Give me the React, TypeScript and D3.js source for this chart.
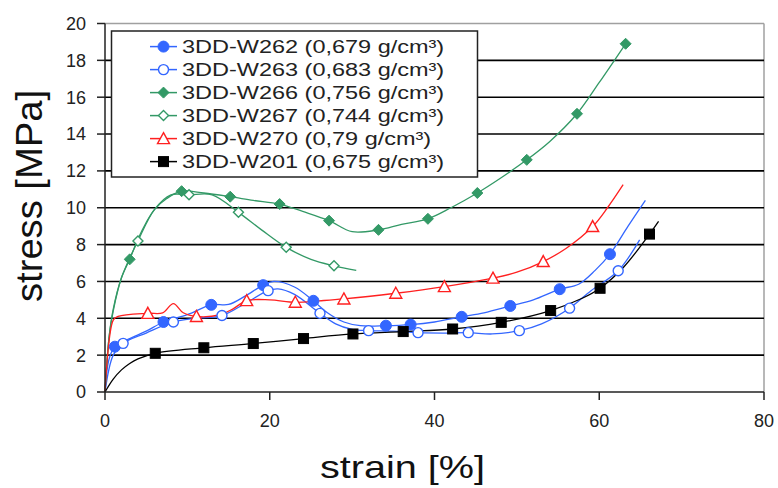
import * as d3 from "d3";

// strain [%] / stress [MPa]
const w262Line = [[0,0],[0.5,1.8],[1.2,2.46],[3,2.9],[5,3.3],[7.1,3.8],[10,4.2],[12.9,4.73],[15,4.75],[17,5.2],[19.2,5.8],[20.5,6.0],[23,5.7],[25.3,4.95],[27,4.3],[29,3.8],[31,3.6],[34.1,3.6],[37.1,3.66],[40,3.8],[43.3,4.08],[46,4.3],[49.2,4.67],[52,5.0],[55.2,5.58],[57.5,5.85],[59.5,6.6],[61.3,7.48],[63.5,9.0],[65.6,10.4]];
const w262Marks = [[1.2,2.46],[7.1,3.8],[12.9,4.73],[19.2,5.8],[25.3,4.95],[34.1,3.6],[37.1,3.66],[43.3,4.08],[49.2,4.67],[55.2,5.58],[61.3,7.48]];

const w263Line = [[0,0],[1,2.0],[2.2,2.64],[5,3.2],[8.3,3.8],[11,4.0],[14.2,4.15],[17,4.8],[19.8,5.5],[21,5.6],[23,5.3],[26.1,4.27],[28,3.7],[30,3.4],[32,3.33],[35,3.3],[38,3.22],[41,3.2],[44.1,3.22],[47,3.15],[50.3,3.33],[53,3.7],[56.4,4.55],[59,5.5],[62.3,6.58],[64.9,8.26]];
const w263Marks = [[2.2,2.64],[8.3,3.8],[14.2,4.15],[19.8,5.5],[26.1,4.27],[32,3.33],[38,3.22],[44.1,3.22],[50.3,3.33],[56.4,4.55],[62.3,6.58]];

const w266Line = [[0,0],[0.5,3.0],[1,4.5],[2,6.2],[3,7.2],[4,8.3],[5,9.2],[6,9.9],[7.5,10.5],[9.3,10.9],[12,10.8],[15.2,10.6],[18,10.4],[21.2,10.2],[24,9.8],[27.2,9.3],[30,8.7],[33.2,8.8],[36,9.1],[39.2,9.4],[42,10.0],[45.2,10.8],[48,11.6],[51.2,12.6],[54,13.6],[57.3,15.1],[60,16.8],[63.2,18.9]];
const w266Marks = [[3,7.2],[9.3,10.9],[15.2,10.6],[21.2,10.2],[27.2,9.3],[33.2,8.8],[39.2,9.4],[45.2,10.8],[51.2,12.6],[57.3,15.1],[63.2,18.9]];

const w267Line = [[0,0],[0.5,3.0],[1,4.4],[2,6.2],[4,8.2],[6,9.9],[8,10.7],[10.2,10.7],[13,10.7],[16.2,9.75],[19,8.8],[22,7.85],[25,7.2],[27.8,6.85],[30.5,6.6]];
const w267Marks = [[4,8.2],[10.2,10.7],[16.2,9.75],[22,7.85],[27.8,6.85]];

const w270Line = [[0,0],[1,3.9],[1.6,4.1],[5.2,4.27],[7,4.3],[8.3,4.8],[9.5,4.3],[11.1,4.1],[14,4.2],[15.5,4.5],[17.2,4.96],[20,5.0],[23.1,4.87],[26,4.95],[29,5.05],[35.3,5.36],[41.2,5.72],[47.1,6.18],[50,6.5],[53.2,7.08],[56,7.8],[59.2,8.98],[61,10.0],[62.9,11.25]];
const w270Marks = [[5.2,4.27],[11.1,4.1],[17.2,4.96],[23.1,4.87],[29,5.05],[35.3,5.36],[41.2,5.72],[47.1,6.18],[53.2,7.08],[59.2,8.98]];

const w201Line = [[0,0],[1,0.7],[2,1.2],[3,1.55],[4,1.8],[6.1,2.1],[12,2.4],[18,2.63],[24.1,2.9],[30.1,3.15],[36.2,3.28],[42.2,3.42],[48.1,3.78],[54.1,4.42],[58,5.1],[60.1,5.63],[63,6.8],[66.1,8.57],[67.2,9.26]];
const w201Marks = [[6.1,2.1],[12,2.4],[18,2.63],[24.1,2.9],[30.1,3.15],[36.2,3.28],[42.2,3.42],[48.1,3.78],[54.1,4.42],[60.1,5.63],[66.1,8.57]];

const seriesNames = [
  "3DD-W262 (0,679 g/cm³)",
  "3DD-W263 (0,683 g/cm³)",
  "3DD-W266 (0,756 g/cm³)",
  "3DD-W267 (0,744 g/cm³)",
  "3DD-W270 (0,79 g/cm³)",
  "3DD-W201 (0,675 g/cm³)",
];
const yTicks = [0, 2, 4, 6, 8, 10, 12, 14, 16, 18, 20];
const xTicks = [0, 20, 40, 60, 80];

const BLUE = "#3366ff";
const GREEN = "#339966";
const RED = "#ff2020";

const series = [
  { name: seriesNames[0], line: w262Line, marks: w262Marks, color: BLUE, shape: "circle", filled: true },
  { name: seriesNames[1], line: w263Line, marks: w263Marks, color: BLUE, shape: "circle", filled: false },
  { name: seriesNames[2], line: w266Line, marks: w266Marks, color: GREEN, shape: "diamond", filled: true },
  { name: seriesNames[3], line: w267Line, marks: w267Marks, color: GREEN, shape: "diamond", filled: false },
  { name: seriesNames[4], line: w270Line, marks: w270Marks, color: RED, shape: "triangle", filled: false },
  { name: seriesNames[5], line: w201Line, marks: w201Marks, color: "#000", shape: "square", filled: true },
];

const FONT = "'Liberation Sans', Arial, sans-serif";

function Marker({ shape, filled, color, cx, cy }) {
  const fill = filled ? color : "#fff";
  const sw = filled ? 1 : 1.4;
  if (shape === "circle") return <circle cx={cx} cy={cy} r={filled ? 5.5 : 5} fill={fill} stroke={color} strokeWidth={sw} />;
  if (shape === "diamond") {
    const h = filled ? 5.5 : 5;
    return <path d={`M${cx},${cy - h}L${cx + h},${cy}L${cx},${cy + h}L${cx - h},${cy}Z`} fill={fill} stroke={color} strokeWidth={sw} />;
  }
  if (shape === "triangle") return <path d={`M${cx},${cy - 6}L${cx + 6},${cy + 5}L${cx - 6},${cy + 5}Z`} fill={fill} stroke={color} strokeWidth={sw} />;
  return <rect x={cx - 5} y={cy - 5} width={10} height={10} fill={fill} stroke={color} strokeWidth={sw} />;
}

export default function App() {
  const width = 778, height = 488;
  const x = d3.scaleLinear().domain([0, 80]).range([105, 764]);
  const y = d3.scaleLinear().domain([0, 20]).range([392, 23.5]);
  const line = d3.line().x(d => x(d[0])).y(d => y(d[1])).curve(d3.curveCatmullRom.alpha(0.5));

  const legendRows = [53.3, 76.3, 99.3, 122.3, 145.3, 168.3];

  return (
    <svg width={width} height={height} style={{ position: "absolute", left: 0, top: 0, background: "#fff" }} fontFamily={FONT}>
      {/* plot frame and grid */}
      <line x1={x(0)} x2={x(80)} y1={y(20)} y2={y(20)} stroke="#a0a0a0" strokeWidth={1.5} />
      <line x1={x(80)} x2={x(80)} y1={y(20)} y2={y(0)} stroke="#a0a0a0" strokeWidth={1.5} />
      {yTicks.filter(v => v > 0 && v < 20).map(v => (
        <line key={"g" + v} x1={x(0)} x2={x(80)} y1={y(v)} y2={y(v)} stroke="#000" strokeWidth={1.6} />
      ))}

      {/* curves */}
      {series.map(s => (
        <path key={"l" + s.name} d={line(s.line)} fill="none" stroke={s.color} strokeWidth={1.3} />
      ))}
      {series.map(s => s.marks.map((p, i) => (
        <Marker key={s.name + i} shape={s.shape} filled={s.filled} color={s.color} cx={x(p[0])} cy={y(p[1])} />
      )))}

      {/* axes */}
      <line x1={x(0)} x2={x(0)} y1={y(20)} y2={y(0)} stroke="#222" strokeWidth={1.5} />
      <line x1={x(0)} x2={x(80)} y1={y(0)} y2={y(0)} stroke="#222" strokeWidth={1.5} />
      {yTicks.map(v => (
        <g key={"yt" + v}>
          <line x1={x(0) - 8} x2={x(0)} y1={y(v)} y2={y(v)} stroke="#222" strokeWidth={1.5} />
          <text x={86} y={y(v) + 6.4} textAnchor="end" fontSize={18} fill="#222">{v}</text>
        </g>
      ))}
      {xTicks.map(v => (
        <g key={"xt" + v}>
          <line x1={x(v)} x2={x(v)} y1={y(0)} y2={y(0) + 8} stroke="#222" strokeWidth={1.5} />
          <text x={x(v)} y={427} textAnchor="middle" fontSize={18} fill="#222">{v}</text>
        </g>
      ))}
      <text x={402.5} y={478} textAnchor="middle" fontSize={32} textLength={165} lengthAdjust="spacingAndGlyphs" fill="#111">strain [%]</text>
      <text transform="translate(42,196) rotate(-90)" textAnchor="middle" fontSize={37} textLength={212} lengthAdjust="spacingAndGlyphs" fill="#111">stress [MPa]</text>

      {/* legend */}
      <rect x={111.5} y={31} width={366} height={146} fill="#fff" stroke="#222" strokeWidth={1.5} />
      {series.map((s, i) => {
        const cy = legendRows[i] - 6.7;
        return (
          <g key={"lg" + i}>
            <line x1={150} x2={177} y1={cy} y2={cy} stroke={s.color} strokeWidth={1.5} />
            <Marker shape={s.shape} filled={s.filled} color={s.color} cx={163.5} cy={cy} />
            <text transform={`translate(182,${legendRows[i]}) scale(1.27,1)`} fontSize={18.5} fill="#222">{s.name}</text>
          </g>
        );
      })}
    </svg>
  );
}
